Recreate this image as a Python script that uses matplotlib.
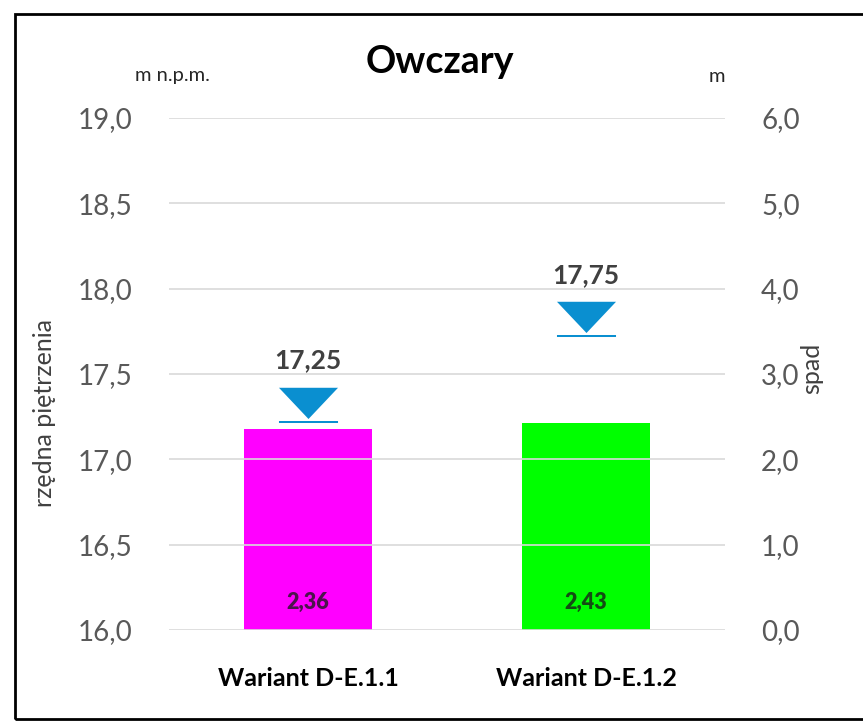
import numpy as np
import matplotlib
matplotlib.use("Agg")
import matplotlib.pyplot as plt
from matplotlib.path import Path

plt.rcParams['font.family'] = ['Lato', 'DejaVu Sans']

# data
warianty = ['Wariant D-E.1.1', 'Wariant D-E.1.2']
spad = [2.36, 2.43]                 # right axis, m
rzedna = [17.25, 17.75]             # left axis, m n.p.m.
kolory = ['#ff00ff', '#00ff00']
left_ticks = [16.0, 16.5, 17.0, 17.5, 18.0, 18.5, 19.0]
right_ticks = [0, 1, 2, 3, 4, 5, 6]


def pl(v, d):
    return f"{v:.{d}f}".replace('.', ',')


fig = plt.figure(figsize=(8.63, 7.21), dpi=100)
ax = fig.add_axes([169 / 863, 1 - 630 / 721, (725 - 169) / 863, (630 - 118) / 721])
ax2 = ax.twinx()

x = np.arange(len(warianty))

# bars on the "spad" axis
ax2.bar(x, spad, width=0.46, color=kolory, zorder=2)
for xi, v in zip(x, spad):
    ax2.text(xi, 0.32, pl(v, 2), ha='center', va='center', fontsize=15.5,
             fontweight='heavy', color='#1a1a1a', alpha=0.78)

# water level marker: triangle + line below (custom path, in px units)
verts = [(-29.5, 29.7), (29.5, 29.7), (0, -1.5), (-29.5, 29.7),
         (-29.5, -3.5), (29.5, -3.5), (29.5, -5.5), (-29.5, -5.5), (-29.5, -3.5)]
codes = [Path.MOVETO, Path.LINETO, Path.LINETO, Path.CLOSEPOLY,
         Path.MOVETO, Path.LINETO, Path.LINETO, Path.LINETO, Path.CLOSEPOLY]
znak = Path(verts, codes)
ax.plot(x, rzedna, linestyle='none', marker=znak, markersize=42.8,
        color='#0a8fd0', markeredgewidth=0, zorder=5)
for xi, v in zip(x, rzedna):
    ax.annotate(pl(v, 2), (xi, v), xytext=(0, 32), textcoords='offset points',
                ha='center', va='bottom', fontsize=19, fontweight='bold',
                color='#404040')

# axes
ax.set_xlim(-0.5, 1.5)
ax.set_ylim(16, 19)
ax2.set_ylim(0, 6)
ax.set_yticks(left_ticks)
ax.set_yticklabels([pl(t, 1) for t in left_ticks])
ax2.set_yticks(right_ticks)
ax2.set_yticklabels([pl(t, 1) for t in right_ticks])
ax.set_xticks(x)
ax.set_xticklabels(warianty, fontsize=18, fontweight='bold', color='black')

ax.grid(axis='y', color='#d9d9d9', linewidth=1.2, zorder=0)
ax.set_axisbelow(True)
ax.set_zorder(ax2.get_zorder() + 1)
ax.patch.set_visible(False)
for a in (ax, ax2):
    for s in a.spines.values():
        s.set_visible(False)
    a.tick_params(length=0)
ax.tick_params(axis='y', labelsize=20, labelcolor='#595959', pad=26)
ax2.tick_params(axis='y', labelsize=20, labelcolor='#595959', pad=26)
ax.tick_params(axis='x', pad=27)

fig.text(440 / 863, 1 - 62 / 721, 'Owczary', ha='center', va='center',
         fontsize=27, fontweight='bold', color='black')
fig.text(172 / 863, 1 - 75 / 721, 'm n.p.m.', ha='center', va='center',
         fontsize=14.5, color='#262626')
fig.text(717 / 863, 1 - 76 / 721, 'm', ha='center', va='center',
         fontsize=14.5, color='#262626')
fig.text(45 / 863, 1 - 413 / 721, 'rzędna piętrzenia', rotation=90,
         ha='center', va='center', fontsize=18, color='#404040')
fig.text(812 / 863, 1 - 368 / 721, 'spad', rotation=90,
         ha='center', va='center', fontsize=18, color='#404040')

# outer frame
fig.add_artist(plt.Rectangle((14.5 / 863, 1 - 719 / 721), 1.0, (719 - 14) / 721,
                             transform=fig.transFigure, fill=False,
                             edgecolor='black', linewidth=2))

fig.savefig('out.png', dpi=100)
